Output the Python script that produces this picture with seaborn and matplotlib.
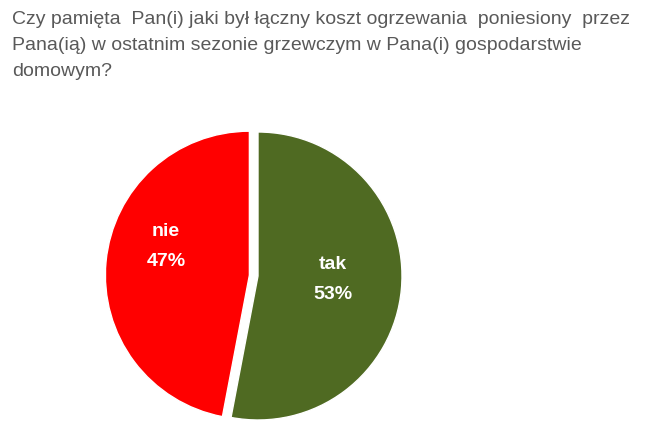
import matplotlib
matplotlib.use("Agg")
import matplotlib.pyplot as plt
import seaborn as sns

sns.set_theme(style="white")
plt.rcParams['font.family'] = ['Liberation Sans', 'DejaVu Sans']

categories = ["tak", "nie"]
values = [53, 47]
colors = ["#4F6A22", "#FF0000"]
title = ("Czy pamięta  Pan(i) jaki był łączny koszt ogrzewania  poniesiony  przez\n"
         "Pana(ią) w ostatnim sezonie grzewczym w Pana(i) gospodarstwie\n"
         "domowym?")

W, H = 654, 435
fig = plt.figure(figsize=(W / 100, H / 100), dpi=100)
fig.patch.set_facecolor("white")

r_px = 144
cx, cy = 258, 277
L = 1.1
S = 2 * L * r_px
ax = fig.add_axes([(cx - S / 2) / W, (H - cy - S / 2) / H, S / W, S / H])

wedges, texts = ax.pie(values, colors=colors, startangle=90, counterclock=False,
                       explode=[0, 0.06], radius=1,
                       wedgeprops=dict(edgecolor="white", linewidth=1))
ax.set_xlim(-L, L)
ax.set_ylim(-L, L)
ax.set_aspect("equal")
ax.axis("off")

label_pos = [(0.52, -0.02), (-0.64, 0.215)]
for cat, v, (x, y) in zip(categories, values, label_pos):
    ax.text(x, y, f"{cat}\n{v}%", ha="center", va="center", color="white",
            fontsize=14, fontweight="bold", linespacing=2.0)

fig.text(12 / W, 1 - 11 / H, title, ha="left", va="top", fontsize=14,
         color="#595959", linespacing=1.7)

fig.savefig("out.png", dpi=100)
